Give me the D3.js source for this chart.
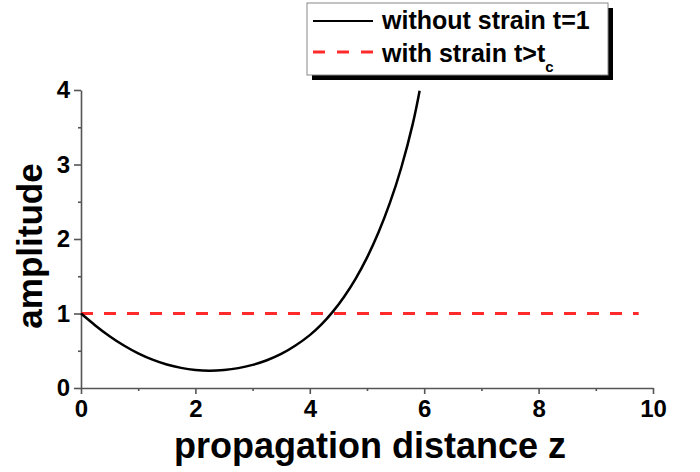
<!DOCTYPE html>
<html>
<head>
<meta charset="utf-8">
<script src="https://cdn.jsdelivr.net/npm/d3@7"></script>
<style>
  body { margin: 0; background: white; }
  text { font-family: "Liberation Sans", Arial, sans-serif; font-weight: bold; }
</style>
</head>
<body>
<script>
'use strict';
// amplitude vs propagation distance, two cases
let zValues = [0, 0.25, 0.5, 0.75, 1, 1.25, 1.5, 1.75, 2, 2.25, 2.5, 2.75, 3, 3.25, 3.5, 3.75, 4, 4.2, 4.4, 4.6, 4.8, 5.0, 5.2, 5.4, 5.6, 5.8, 5.92];
let ampNoStrain = [1.0, 0.84, 0.695, 0.57, 0.465, 0.38, 0.315, 0.27, 0.242, 0.232, 0.242, 0.267, 0.31, 0.372, 0.457, 0.57, 0.71, 0.85, 1.022, 1.226, 1.466, 1.75, 2.086, 2.484, 2.96, 3.545, 3.99];
let strainZ = [0, 9.75];
let ampStrain = [1, 1];
let xTicks = [0, 2, 4, 6, 8, 10];
let xMinor = [1, 3, 5, 7, 9];
let yTicks = [0, 1, 2, 3, 4];
let yMinor = [0.5, 1.5, 2.5, 3.5];

(function() {
    let svg = d3.select('body').append('svg')
        .attr('width', 700)
        .attr('height', 472);

    let xScale = d3.scaleLinear().domain([0, 10]).range([81, 653]);
    let yScale = d3.scaleLinear().domain([0, 4]).range([388, 90]);
    let axisColor = '#555';

    // x axis, major then minor ticks
    svg.append('g')
        .attr('transform', 'translate(0,388)')
        .call(d3.axisBottom(xScale).tickValues(xTicks).tickFormat(d3.format('d'))
            .tickSize(6).tickSizeOuter(0).tickPadding(6));
    svg.append('g')
        .attr('transform', 'translate(0,388)')
        .call(d3.axisBottom(xScale).tickValues(xMinor).tickSize(3).tickFormat('').tickSizeOuter(0))
        .select('.domain').remove();

    svg.append('g')
        .attr('transform', 'translate(81,0)')
        .call(d3.axisLeft(yScale).tickValues(yTicks).tickFormat(d3.format('d'))
            .tickSize(7).tickSizeOuter(0).tickPadding(4));
    svg.append('g')
        .attr('transform', 'translate(81,0)')
        .call(d3.axisLeft(yScale).tickValues(yMinor).tickSize(3).tickFormat('').tickSizeOuter(0))
        .select('.domain').remove();

    svg.selectAll('.domain, .tick line')
        .attr('stroke', axisColor)
        .attr('stroke-width', 1.6);
    svg.selectAll('.tick text')
        .attr('fill', 'black')
        .style('font-size', '24px')
        .style('font-family', '"Liberation Sans", Arial, sans-serif')
        .style('font-weight', 'bold');

    // axis titles
    svg.append('text')
        .attr('x', 370)
        .attr('y', 458)
        .attr('text-anchor', 'middle')
        .style('font-size', '36px')
        .text('propagation distance z');

    svg.append('text')
        .attr('transform', 'translate(42, 246)rotate(-90)')
        .attr('text-anchor', 'middle')
        .style('font-size', '35px')
        .text('amplitude');

    // data lines
    let noStrain = zValues.map((z, i) => ({z: z, a: ampNoStrain[i]}));
    let strain = strainZ.map((z, i) => ({z: z, a: ampStrain[i]}));

    let line = d3.line()
        .x(d => xScale(d.z))
        .y(d => yScale(d.a))
        .curve(d3.curveNatural);

    svg.append('path')
        .datum(strain)
        .attr('d', line)
        .attr('fill', 'none')
        .attr('stroke', '#ff2b2b')
        .attr('stroke-width', 3)
        .attr('stroke-dasharray', '12,11');

    svg.append('path')
        .datum(noStrain)
        .attr('d', line)
        .attr('fill', 'none')
        .attr('stroke', 'black')
        .attr('stroke-width', 2.5);

    // legend with drop shadow
    let legend = svg.append('g');
    legend.append('rect')
        .attr('x', 312).attr('y', 8)
        .attr('width', 301).attr('height', 72)
        .attr('fill', 'black');
    legend.append('rect')
        .attr('x', 307).attr('y', 3)
        .attr('width', 301).attr('height', 72)
        .attr('fill', 'white')
        .attr('stroke', '#888')
        .attr('stroke-width', 1);

    legend.append('line')
        .attr('x1', 313).attr('x2', 373)
        .attr('y1', 21).attr('y2', 21)
        .attr('stroke', 'black')
        .attr('stroke-width', 2);
    legend.append('text')
        .attr('x', 382).attr('y', 29)
        .style('font-size', '25px')
        .text('without strain t=1');

    legend.append('line')
        .attr('x1', 313).attr('x2', 373)
        .attr('y1', 52).attr('y2', 52)
        .attr('stroke', '#ff2b2b')
        .attr('stroke-width', 3)
        .attr('stroke-dasharray', '12,12');
    let t2 = legend.append('text')
        .attr('x', 382).attr('y', 62)
        .style('font-size', '25px');
    t2.append('tspan').text('with strain t>t');
    t2.append('tspan')
        .attr('dy', 10)
        .style('font-size', '15px')
        .text('c');
})();
</script>
</body>
</html>
